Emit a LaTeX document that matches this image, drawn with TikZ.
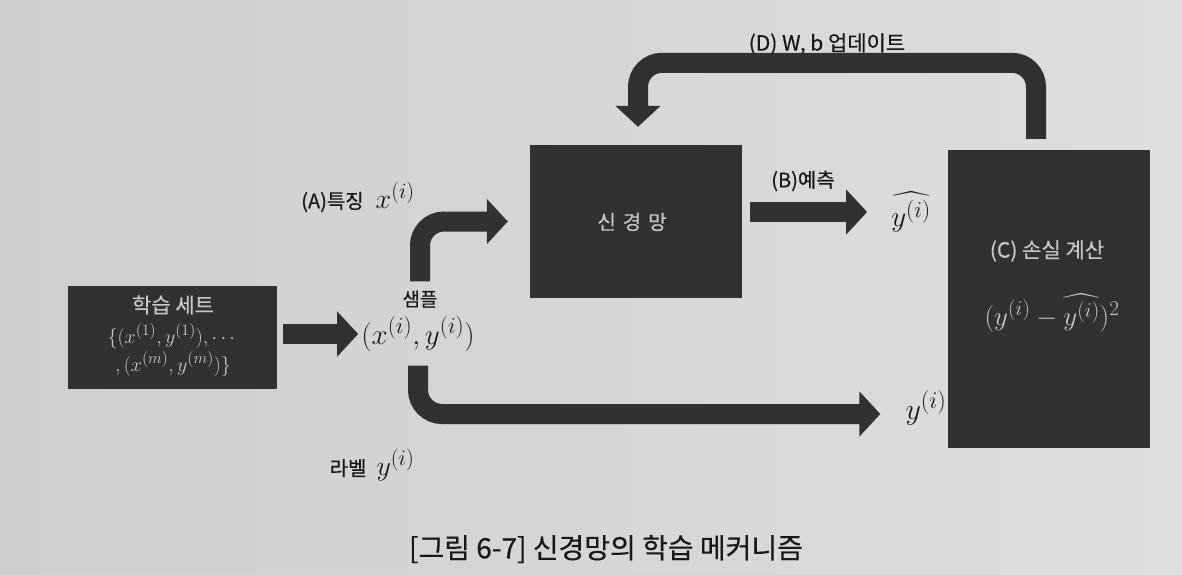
\documentclass[tikz,border=0pt]{standalone}
\usepackage{fix-cm}
\usepackage{amsmath}
\usepackage[no-math]{fontspec}
\setmainfont{Noto Sans CJK KR}[FakeBold=0.4]
\usetikzlibrary{arrows.meta}
\DeclareMathSizes{20}{20}{16}{13}
\DeclareMathSizes{27}{27}{21}{17}
\DeclareMathSizes{28}{28}{22}{18}
\DeclareMathSizes{29}{29}{23}{18}
\DeclareMathSizes{30}{30}{24}{19}
\definecolor{paperL}{RGB}{204,206,207}
\definecolor{paperR}{RGB}{221,223,223}
\definecolor{ink}{RGB}{50,48,48}
\definecolor{boxtext}{RGB}{200,200,200}
\definecolor{labtext}{RGB}{24,24,24}
\newcommand{\myfs}[1]{\fontsize{#1}{#1}\selectfont}
\tikzset{
  box/.style={fill=ink, draw=none, inner sep=0pt},
  intext/.style={inner sep=0pt, text=boxtext, align=center},
  lab/.style={inner sep=0pt, text=labtext},
  fat/.style={draw=ink, line width=20pt, rounded corners=24pt,
    -{Triangle[length=21pt,width=44pt]}},
}
\begin{document}
\begin{tikzpicture}[x=1pt,y=-1pt]
\useasboundingbox (0,0) rectangle (1182,574);
\shade[left color=paperL, right color=paperR] (0,0) rectangle (1182,574);

% boxes
\node[box, minimum width=209pt, minimum height=103pt] (set) at (172.5,337.5) {};
\node[box, minimum width=212pt, minimum height=153pt] (nn) at (636,221.5) {};
\node[box, minimum width=202pt, minimum height=298pt] (loss) at (1049,299) {};

% box texts
\node[intext] (setT) at (173,305) {\myfs{21}학습 세트};
\node[intext] (setA) at (173,336) {\myfs{20}$\{(x^{(1)},y^{(1)}),\cdots$};
\node[intext] (setB) at (173,364) {\myfs{20}$,(x^{(m)},y^{(m)})\}$};
\node[intext] (nnT) at (632,222) {\myfs{20}신\hspace{0.35em}경\hspace{0.35em}망};
\node[intext] (lossT) at (1047,251) {\myfs{21}(C) 손실 계산};
\node[intext] (lossF) at (1052,313) {\myfs{27}$(y^{(i)}-\widehat{y^{(i)}})^2$};

% labels
\node[lab] (lblA) at (358,197) {\myfs{20}(A)특징\hspace{0.6em}\myfs{28}$x^{(i)}$};
\node[lab] (smpT) at (420,299) {\myfs{19}샘플};
\node[lab] (smp) at (418,334) {\myfs{29}$(x^{(i)},y^{(i)})$};
\node[lab] (lblB) at (803,181) {\myfs{20}(B)예측};
\node[lab] (yhat) at (911,212) {\myfs{29}$\widehat{y^{(i)}}$};
\node[lab] (ylab) at (926,408) {\myfs{30}$y^{(i)}$};
\node[lab] (lblL) at (372,465) {\myfs{20}라벨\hspace{0.5em}\myfs{28}$y^{(i)}$};
\node[lab] (lblD) at (827,44) {\myfs{21}(D) W, b 업데이트};
\node[lab] (cap) at (606,549) {\myfs{28}[그림 6-7] 신경망의 학습 메커니즘};

% connectors
\draw[fat] ([xshift=6pt]set.east |- smp.west) -- ([xshift=-3pt]smp.west);
\draw[fat] ([yshift=9pt]smpT.north) |- ([xshift=-22pt]nn.west);
\draw[fat] ([yshift=-14pt]smp.south) |- ([xshift=-25pt,yshift=-6pt]ylab.west);
\draw[fat] ([xshift=8pt]nn.east |- yhat.west) -- ([xshift=-24pt]yhat.west);
\draw[fat] ([xshift=-13pt,yshift=11pt]loss.north) -- ++(0,-76) -| ([xshift=2pt,yshift=18pt]nn.north);
\end{tikzpicture}
\end{document}
